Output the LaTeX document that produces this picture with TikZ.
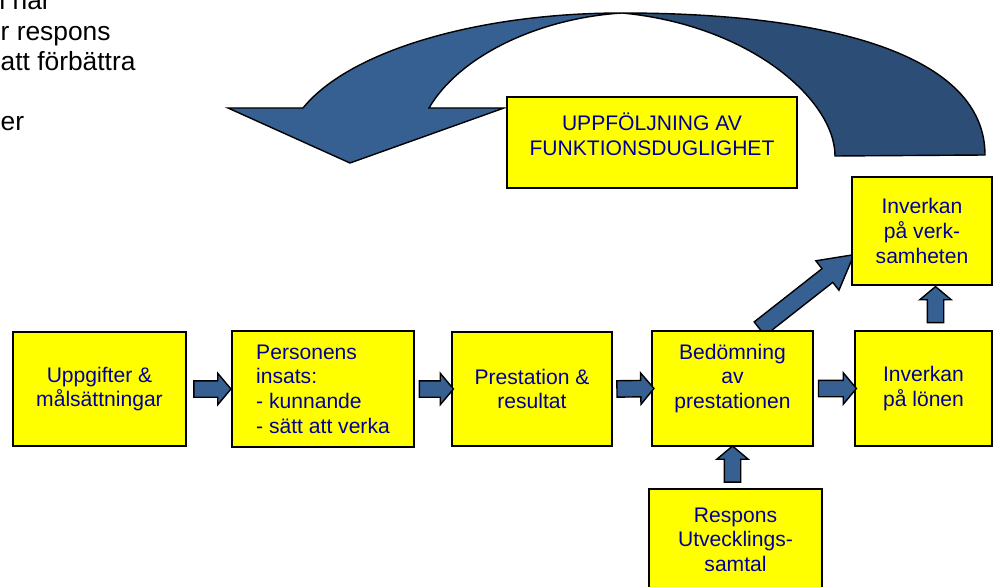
\documentclass[tikz,border=0pt]{standalone}
\usepackage{fontspec}
\setmainfont{Liberation Sans}
\usetikzlibrary{shapes.arrows, calc, backgrounds}
\definecolor{cyellow}{HTML}{FFFF00}
\definecolor{cnavy}{HTML}{000099}
\definecolor{cblue}{HTML}{376092}
\definecolor{cdark}{HTML}{2C4D75}
\tikzset{
  every picture/.style={line width=0.8pt},
  box/.style={draw=black, fill=cyellow, line width=1pt, align=center, text=cnavy, inner sep=0pt, font=\fontsize{12}{14}\selectfont},
  blockarrow/.style={single arrow, draw=black, fill=cblue, line width=0.8pt, inner xsep=0pt, inner ysep=0.15cm, single arrow head extend=0.15cm, single arrow tip angle=100, single arrow head indent=0pt, sloped, allow upside down},
  bigarrow/.style={blockarrow, inner ysep=0.16cm, single arrow head extend=0.2cm, single arrow tip angle=58},
  note/.style={font=\fontsize{15}{17.25}\selectfont, align=left, inner sep=0pt},
}
\begin{document}
\begin{tikzpicture}[x=0.02cm, y=-0.02cm]
  \useasboundingbox (0,0) rectangle (999,587);
  % text cut off at the top left
  \node[note, anchor=north west] (intro) at (0,-9) {\hspace*{-0.2cm}n när\\r respons\\att förbättra\\[0.6cm]er};
  % the twisted return arrow
  \draw[fill=cdark, line join=miter] (622,13) .. controls (830,13) and (985,55) .. (985,155) -- (835,156) .. controls (835,100) and (750,25) .. (622,13) -- cycle;
  \draw[fill=cblue, line join=miter] (622,13) .. controls (480,13) and (350,50) .. (303,108) -- (228,108) -- (350,163) -- (504,108) -- (429,108) .. controls (460,55) and (540,18) .. (622,13) -- cycle;
  % boxes
  \node[box, minimum width=5.8cm, minimum height=1.82cm] (follow) at (652,142.5) {};
  \node[box, draw=none, fill=none] (followtext) at (652,134) {UPPFÖLJNING AV\\FUNKTIONSDUGLIGHET};
  \node[box, minimum width=3.46cm, minimum height=2.28cm] (task) at (99.5,389) {Uppgifter \&\\målsättningar};
  \node[box, align=left, minimum width=3.64cm, minimum height=2.32cm] (insats) at (323,389) {Personens\\insats:\\- kunnande\\- sätt att verka};
  \node[box, minimum width=3.2cm, minimum height=2.28cm] (prest) at (532,389) {Prestation \&\\resultat};
  \node[box, minimum width=3.22cm, minimum height=2.3cm] (bedom) at (732.5,388.5) {Bedömning\\av\\prestationen\\ \mbox{}};
  \node[box, minimum width=2.74cm, minimum height=2.3cm] (lon) at (923.5,388.5) {Inverkan\\på lönen};
  \node[box, minimum width=2.8cm, minimum height=2.16cm] (verk) at (922,231) {Inverkan\\på verk-\\samheten};
  \node[box, minimum width=3.46cm, minimum height=2.02cm] (respons) at (735.5,539.5) {Respons\\Utvecklings-\\samtal};
  % block arrows
  \path (task.east) -- node[blockarrow, minimum height=0.74cm] (a1) {} (insats.west);
  \path (insats.east) -- node[blockarrow, minimum height=0.68cm] (a2) {} (prest.west);
  \path (prest.east) -- node[blockarrow, minimum height=0.74cm] (a3) {} (bedom.west);
  \path (bedom.east) -- node[blockarrow, minimum height=0.76cm] (a4) {} (lon.west);
  \path ([xshift=0.24cm]lon.north) -- node[blockarrow, minimum height=0.72cm] (a5) {} ([xshift=0.24cm]lon.north |- verk.south);
  \path (respons.north -| bedom.south) -- node[blockarrow, minimum height=0.72cm] (a6) {} (bedom.south);
  \begin{scope}[on background layer]
    \path ([xshift=0.43cm, yshift=-0.06cm]bedom.north) -- node[bigarrow, minimum height=2.4cm] (a7) {} ([xshift=-0.08cm, yshift=-0.58cm]verk.west);
  \end{scope}
\end{tikzpicture}
\end{document}
